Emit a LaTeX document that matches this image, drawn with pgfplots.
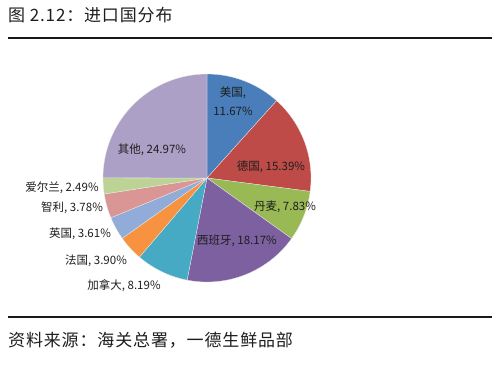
\documentclass[border=0pt]{standalone}
\usepackage{pgfplots}
\pgfplotsset{compat=1.18}
\usepackage{fontspec}
\setmainfont{Noto Sans CJK SC}
\definecolor{cUS}{HTML}{4A7EBB}
\definecolor{cDE}{HTML}{BE4B48}
\definecolor{cDK}{HTML}{98B954}
\definecolor{cES}{HTML}{7D60A0}
\definecolor{cCA}{HTML}{46AAC5}
\definecolor{cFR}{HTML}{F69240}
\definecolor{cUK}{HTML}{91ACD8}
\definecolor{cCL}{HTML}{DA9694}
\definecolor{cIE}{HTML}{BDD396}
\definecolor{cOT}{HTML}{ADA0C6}
\definecolor{txt}{HTML}{1E1E1E}
\def\cum{0}
\newcommand\slice[2]{%
  \pgfmathsetmacro\sa{-90+3.6*\cum}%
  \pgfmathsetmacro\sb{-90+3.6*(\cum+#2)}%
  \pgfmathsetmacro\newcum{\cum+#2}\global\let\cum\newcum
  \edef\tmp{\noexpand\addplot[fill=#1, draw=white!85!gray, line width=0.3pt, domain=\sa:\sb, samples=80, variable=\noexpand\t]
    ({207+104*cos(\noexpand\t)},{178+104*sin(\noexpand\t)}) -- (axis cs:207,178) -- cycle;}%
  \tmp}
\begin{document}
\begin{tikzpicture}
\fill[white] (0,0) rectangle (500pt,365pt);
\begin{axis}[scale only axis, width=500pt, height=365pt,
  xmin=0, xmax=500, ymin=0, ymax=365, y dir=reverse,
  hide axis, clip=false]
\slice{cUS}{11.67}
\slice{cDE}{15.39}
\slice{cDK}{7.83}
\slice{cES}{18.17}
\slice{cCA}{8.19}
\slice{cFR}{3.90}
\slice{cUK}{3.61}
\slice{cCL}{3.78}
\slice{cIE}{2.49}
\slice{cOT}{24.97}
\begin{scope}[every node/.style={font=\fontsize{11.5}{13}\selectfont, text=txt, inner sep=0pt}]
\node at (axis cs:233,93) {美国,};
\node at (axis cs:233,111) {11.67\%};
\node at (axis cs:271,167) {德国, 15.39\%};
\node at (axis cs:285,207) {丹麦, 7.83\%};
\node at (axis cs:237,241) {西班牙, 18.17\%};
\node at (axis cs:152,150) {其他, 24.97\%};
\node at (axis cs:62,188) {爱尔兰, 2.49\%};
\node at (axis cs:72,208) {智利, 3.78\%};
\node at (axis cs:80,234) {英国, 3.61\%};
\node at (axis cs:96,261) {法国, 3.90\%};
\node at (axis cs:124,286) {加拿大, 8.19\%};
\end{scope}
\node[anchor=west, inner sep=0pt, font=\fontsize{17}{19}\selectfont\addfontfeatures{LetterSpace=5}, text=txt] at (axis cs:8,15) {图 2.12：进口国分布};
\node[anchor=west, inner sep=0pt, font=\fontsize{17}{19}\selectfont\addfontfeatures{LetterSpace=5}, text=txt] at (axis cs:8,340) {资料来源：海关总署，一德生鲜品部};
\draw[line width=2pt, black!90] (axis cs:8,38) -- (axis cs:492,38);
\draw[line width=2pt, black!90] (axis cs:8,317) -- (axis cs:492,317);
\end{axis}
\end{tikzpicture}
\end{document}
